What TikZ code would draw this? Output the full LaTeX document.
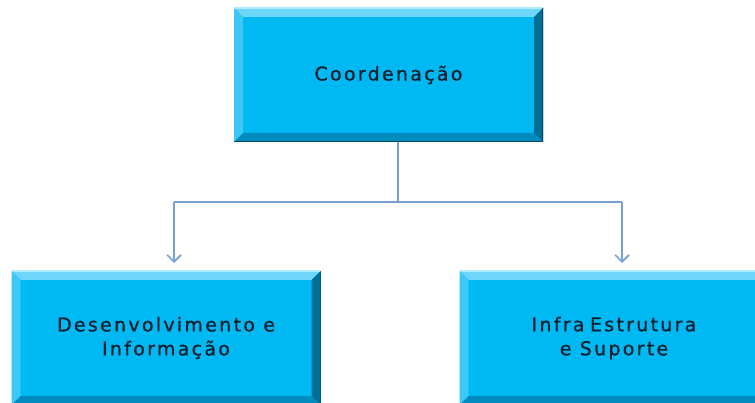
\documentclass[tikz,border=0pt]{standalone}
\usepackage{fontspec}
\setmainfont{DejaVu Sans}[LetterSpace=12,FakeBold=0.8]
\usetikzlibrary{arrows.meta,calc}
\definecolor{boxc}{RGB}{0,185,242}
\definecolor{bevtop}{RGB}{110,214,250}
\definecolor{bevleft}{RGB}{60,200,246}
\definecolor{bevright}{RGB}{0,110,150}
\definecolor{bevbot}{RGB}{0,140,190}
\definecolor{linec}{RGB}{120,158,212}
\definecolor{txt}{RGB}{10,30,45}
\tikzset{
  bevbox/.style={draw=none, fill=boxc, minimum width=309pt, minimum height=134pt,
    inner sep=0pt, align=center, text=txt, font=\fontsize{19}{24}\selectfont,
    path picture={
      \coordinate (pnw) at (path picture bounding box.north west);
      \coordinate (pne) at (path picture bounding box.north east);
      \coordinate (psw) at (path picture bounding box.south west);
      \coordinate (pse) at (path picture bounding box.south east);
      \fill[bevtop] (pnw) -- (pne) -- ($(pne)+(-9pt,-9pt)$) -- ($(pnw)+(9pt,-9pt)$) -- cycle;
      \fill[bevleft] (pnw) -- ($(pnw)+(9pt,-9pt)$) -- ($(psw)+(9pt,9pt)$) -- (psw) -- cycle;
      \fill[bevright] (pne) -- ($(pne)+(-9pt,-9pt)$) -- ($(pse)+(-9pt,9pt)$) -- (pse) -- cycle;
      \fill[bevbot] (psw) -- ($(psw)+(9pt,9pt)$) -- ($(pse)+(-9pt,9pt)$) -- (pse) -- cycle;
      \draw[white!70!boxc, line width=1.5pt] (pnw) -- (pne);
      \draw[black!60!boxc, line width=2pt] (pne) -- (pse) -- (psw);
    }},
  conn/.style={draw=linec, line width=1.6pt},
  arr/.style={conn, -{Straight Barb[length=7pt,width=14pt,line width=1.6pt]}}
}
\begin{document}
\begin{tikzpicture}[x=1pt,y=-1pt]
\useasboundingbox[fill=white] (0,0) rectangle (755,403);
\node[bevbox] (coord) at (388.5,75) {Coordenação};
\node[bevbox] (desenv) at (166,338) {Desenvolvimento e\\Informação};
\node[bevbox] (infra) at (614,338) {Infra\hspace{-0.15em} Estrutura\\e Suporte};
\coordinate (mid) at (398,202);
\coordinate (lc) at (174,202);
\coordinate (rc) at (622,202);
\coordinate (la) at (174,263);
\coordinate (ra) at (622,263);
\draw[conn] (coord.south -| mid) -- (mid);
\draw[conn] (lc) -- (rc);
\draw[arr] (lc) -- (la);
\draw[arr] (rc) -- (ra);
\end{tikzpicture}
\end{document}
